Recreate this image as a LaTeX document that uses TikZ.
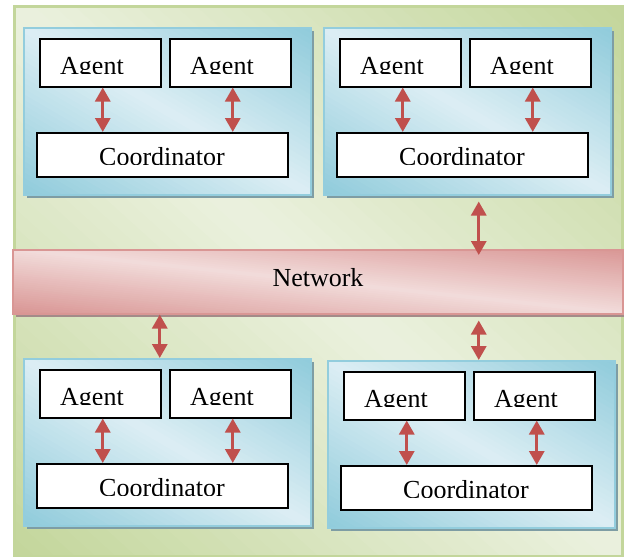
\documentclass[tikz,border=0pt]{standalone}
\usepackage{fontspec}
\setmainfont{Liberation Serif}
\usetikzlibrary{arrows.meta}

\definecolor{framedark}{HTML}{C3D69B}
\definecolor{framelight}{HTML}{EBF1DE}
\definecolor{paneldark}{HTML}{8FCBDB}
\definecolor{panellight}{HTML}{DCEEF4}
\definecolor{panelline}{HTML}{93CDDD}
\definecolor{panelshadow}{HTML}{7E9DA4}
\definecolor{netdark}{HTML}{D99694}
\definecolor{netlight}{HTML}{F2DCDB}
\definecolor{netshadow}{HTML}{A38B89}
\definecolor{linkred}{HTML}{C0504D}

\tikzset{
  framebox/.style={draw=framedark, line width=3pt, anchor=north west, inner sep=0pt},
  panel/.style={draw=panelline, line width=1.5pt, anchor=north west, inner sep=0pt,
    minimum width=287pt, minimum height=167pt},
  netbar/.style={draw=netdark, line width=1.5pt, anchor=north west, inner sep=0pt},
  whitebox/.style={draw=black, line width=1.5pt, fill=white, anchor=north west,
    inner sep=0pt},
  agentbox/.style={whitebox, minimum width=121pt, minimum height=48pt},
  coordbox/.style={whitebox, minimum width=251pt, minimum height=44pt},
  labeltext/.style={font=\fontsize{26}{30}\selectfont, inner sep=0pt},
  biarrow/.style={draw=linkred, line width=3pt,
    {Triangle[width=15pt,length=14pt]}-{Triangle[width=15pt,length=14pt]}},
}

% Diagonal dark-light-dark gradient over a rectangle given by its
% top-left corner (#1,#2), width #3 and height #4; colours #5 (ends), #6 (middle)
\newcommand\diagfill[6]{%
  \begin{scope}[shift={(#1,#2+#4)}, x={(#3pt,0pt)}, y={(0pt,#4pt)}]
    \clip (0,0) rectangle (1,1);
    \foreach \k [evaluate=\k as \ca using 2*\k/60,
                 evaluate=\k as \cb using 2*(\k+1.4)/60,
                 evaluate=\k as \p using int(round(100*(1-abs(2*(\k+0.5)/60-1))))]
      in {0,...,59}
      \fill[#6!\p!#5] (\ca+2,-2) -- (\ca-2,2) -- (\cb-2,2) -- (\cb+2,-2) -- cycle;
  \end{scope}}

% One group: two agents above a coordinator, each agent linked to it
\newcommand\agentgroup[3]{%
  \begin{scope}[shift={(#2,#3)}]
    \fill[panelshadow] (4,4) rectangle (291,171);
    \diagfill{0}{0}{287}{167}{paneldark}{panellight}
    \node[panel] (#1) at (0,0) {};
    \node[agentbox] (#1a) at (16,11) {};
    \node[agentbox] (#1b) at (146,11) {};
    \node[coordbox] (#1c) at (13,105) {};
    \begin{scope}
      \clip (16,11) rectangle (137,46);
      \node[labeltext, anchor=base west] (#1at) at (37,47) {Agent};
    \end{scope}
    \begin{scope}
      \clip (146,11) rectangle (273,46);
      \node[labeltext, anchor=base west] (#1bt) at (167,47) {Agent};
    \end{scope}
    \begin{scope}
      \clip (13,105) rectangle (264,137.5);
      \node[labeltext, anchor=base] (#1ct) at (139,138.5) {Coordinator};
    \end{scope}
    \draw[biarrow] ([xshift=2.5pt]#1a.south) -- ([xshift=2.5pt]#1a.south |- #1c.north);
    \draw[biarrow] ([xshift=2.5pt]#1b.south) -- ([xshift=2.5pt]#1b.south |- #1c.north);
  \end{scope}}

\begin{document}
\begin{tikzpicture}[x=1pt, y=-1pt]
  \useasboundingbox (0,0) rectangle (624,557);
  \fill[white] (0,0) rectangle (624,557);

  % outer frame
  \diagfill{13}{5}{608}{550}{framedark}{framelight}
  \node[framebox, minimum width=608pt, minimum height=550pt] (frame) at (13,5) {};

  % the four groups
  \agentgroup{tl}{23}{27}
  \agentgroup{tr}{323}{27}
  \agentgroup{bl}{23}{358}
  \agentgroup{br}{327}{360}

  % shared network
  \fill[netshadow] (16,253) rectangle (626,317);
  \diagfill{12}{249}{610}{64}{netdark}{netlight}
  \node[netbar, minimum width=610pt, minimum height=64pt] (net) at (12,249) {};
  \node[labeltext, anchor=base] (nettext) at (318,286) {Network};

  % links between the groups and the network
  \draw[biarrow] ([shift={(11.5,6)}]tr.south) -- ([shift={(11.5,6)}]tr.south |- net.north);
  \draw[biarrow] ([xshift=-7.5pt]bl.north |- net.south) -- ([xshift=-7.5pt]bl.north);
  \draw[biarrow] ([shift={(7.5,6)}]br.north |- net.south) -- ([xshift=7.5pt]br.north);
\end{tikzpicture}
\end{document}
